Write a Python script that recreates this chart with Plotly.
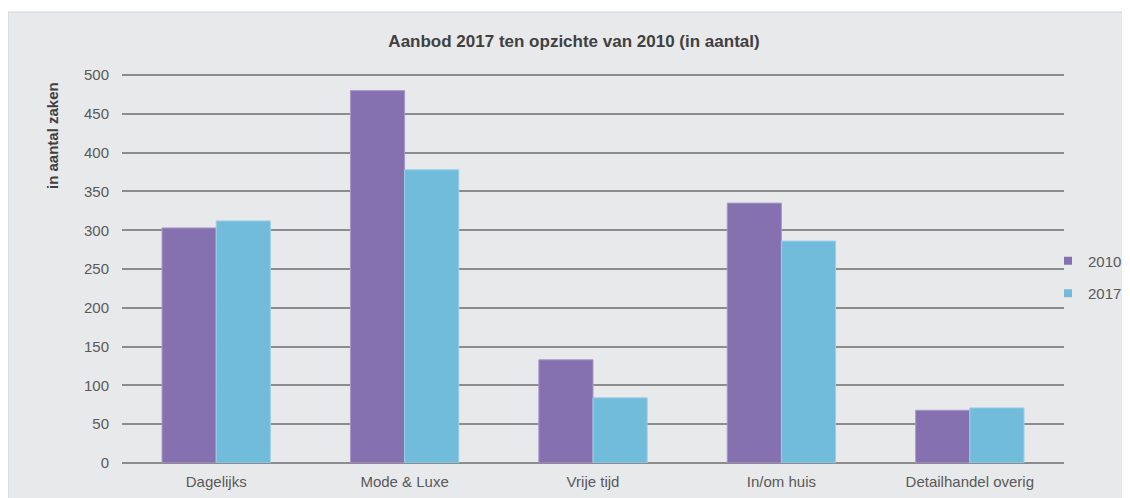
import plotly.graph_objects as go

categories = ["Dagelijks", "Mode & Luxe", "Vrije tijd", "In/om huis", "Detailhandel overig"]
values_2010 = [303, 480, 133, 335, 68]
values_2017 = [312, 378, 84, 286, 71]
series_names = ["2010", "2017"]
series_colors = ["#8671b0", "#71bbdb"]
y_ticks = [0, 50, 100, 150, 200, 250, 300, 350, 400, 450, 500]

# page body has an 8px margin; figure sized to fill the rest of the window
W, H = 1122, 490
L, R, T, B = 114, 66, 64, 35
pw, ph = W - L - R, H - T - B

font = "Liberation Sans, Arial, sans-serif"

fig = go.Figure()
for name, vals, col, edge in [(series_names[0], values_2010, series_colors[0], "#a898c8"),
                              (series_names[1], values_2017, series_colors[1], "#9ccfe6")]:
    fig.add_trace(go.Bar(x=categories, y=vals, name=name, showlegend=False,
                         marker=dict(color=col, line=dict(color=edge, width=1))))
# legend entries with small square symbols
for name, col in zip(series_names, series_colors):
    fig.add_trace(go.Scatter(x=[None], y=[None], mode="markers", name=name,
                             legendgroup=name,
                             marker=dict(symbol="square", size=8, color=col)))

fig.update_layout(
    width=W, height=H,
    margin=dict(l=L, r=R, t=T, b=B, autoexpand=False),
    paper_bgcolor="white",
    plot_bgcolor="rgba(0,0,0,0)",
    barmode="group",
    bargap=0.425,
    bargroupgap=0,
    font=dict(family=font, color="#595959", size=15),
    title=dict(text="<b>Aanbod 2017 ten opzichte van 2010 (in aantal)</b>",
               x=566 / W, xanchor="center", y=1 - 33 / H, yanchor="middle",
               font=dict(size=17, color="#404040", family=font)),
    legend=dict(xref="container", yref="container",
                x=1040 / W, xanchor="left", y=1 - 269 / H, yanchor="middle",
                bgcolor="rgba(0,0,0,0)", font=dict(size=15, color="#595959"),
                itemsizing="trace", tracegroupgap=10, traceorder="grouped"),
    xaxis=dict(showgrid=False, ticks="", showline=False, zeroline=False,
               automargin=False, ticklabelstandoff=8,
               tickfont=dict(size=15, color="#595959")),
    yaxis=dict(range=[0, 504], tickvals=y_ticks, showgrid=True,
               gridcolor="#8c8c8c", gridwidth=2,
               zeroline=True, zerolinecolor="#8c8c8c", zerolinewidth=2,
               showline=False, automargin=False, ticklabelstandoff=12,
               ticks="", tickfont=dict(size=15, color="#595959")),
    annotations=[dict(text="<b>in aantal zaken</b>", xref="paper", yref="paper",
                      x=(44 - L) / pw, y=(H - B - 128) / ph, xanchor="center",
                      yanchor="middle", textangle=-90, showarrow=False,
                      font=dict(size=15, color="#404040", family=font))],
    shapes=[dict(type="rect", xref="paper", yref="paper", layer="below",
                 x0=(0 - L) / pw, x1=(W + 5 - L) / pw,
                 y0=(H - B - (H + 5)) / ph, y1=(H - B - 4) / ph,
                 fillcolor="#e8e9eb", line=dict(color="#d4d4d4", width=1))],
)

fig.write_html("out.html")
